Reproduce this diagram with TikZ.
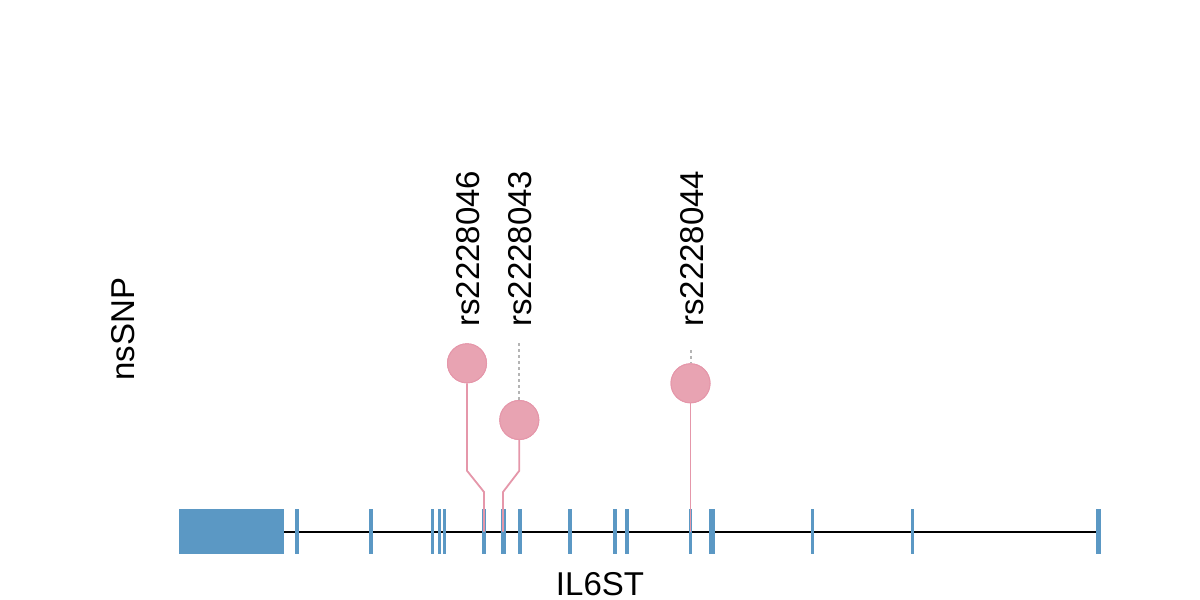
\documentclass[tikz,border=0pt]{standalone}
\usepackage{fontspec}
\setmainfont{Liberation Sans}
\definecolor{exon}{HTML}{5B98C4}
\definecolor{pinkfill}{HTML}{E8A3B2}
\definecolor{pinkline}{HTML}{E597AA}
\definecolor{dashgray}{HTML}{B4B4B4}
\begin{document}
\begin{tikzpicture}[x=1pt,y=-1pt,
  exonbox/.style={fill=exon,draw=none},
  geneline/.style={draw=black,line width=2pt},
  stem/.style={draw=pinkline,line width=1.8pt,line join=miter},
  lolli/.style={circle,fill=pinkfill,draw=pinkline,line width=1pt,minimum size=39pt,inner sep=0pt},
  dashline/.style={draw=dashgray,line width=2pt,dash pattern=on 3pt off 3pt},
  lab/.style={font=\fontsize{33}{38}\selectfont,inner sep=0pt,text=black},
  snplab/.style={lab,rotate=90,anchor=base west}]
\useasboundingbox (0,0) rectangle (1200,600);
% gene backbone
\draw[geneline] (284,531.5) -- (1100,531.5);
\fill[exonbox] (179,509) rectangle (284,554);
\foreach \c/\w in {297/3.5,371/3.5,432.3/3.2,439.5/3.2,444.3/3,484/4,503/5,520/3.5,570/4,615.3/4,627.3/4,690.7/3.5,712/6.5,812.3/3.5,912.3/3.5,1098.3/5}
  \fill[exonbox] ({\c-\w/2},509) rectangle ({\c+\w/2},554);
% anchors on gene
\coordinate (g1) at (484,531.5);
\coordinate (g2) at (503,531.5);
\coordinate (g3) at (690.5,531.5);
\coordinate (k1) at (484,492);
\coordinate (k2) at (503,492);
\coordinate (e1) at (467,470.7);
\coordinate (e2) at (519.3,470.7);
\coordinate (t2) at (519.3,343);
\coordinate (t3) at (690.5,350);
% lollipops
\node[lolli] (c1) at (467,363.3) {};
\node[lolli] (c2) at (519.3,420) {};
\node[lolli] (c3) at (690.5,383.3) {};
\draw[dashline] (t2) -- (c2.north);
\draw[dashline] (t3) -- (c3.north);
\draw[stem] (g1) -- (k1) -- (e1) -- (c1.south);
\draw[stem] (g2) -- (k2) -- (e2) -- (c2.south);
\draw[stem] (g3) -- (c3.south);
\node[lolli] at (c1) {};
\node[lolli] at (c2) {};
\node[lolli] at (c3) {};
% labels
\node[snplab] (l1) at (479.5,327) {rs2228046};
\node[snplab] (l2) at (531.8,327) {rs2228043};
\node[snplab] (l3) at (703,327) {rs2228044};
\node[lab,rotate=90,anchor=base] (ylab) at (134,329) {nsSNP};
\node[lab,anchor=base] (xlab) at (600,595) {IL6ST};
\end{tikzpicture}
\end{document}
